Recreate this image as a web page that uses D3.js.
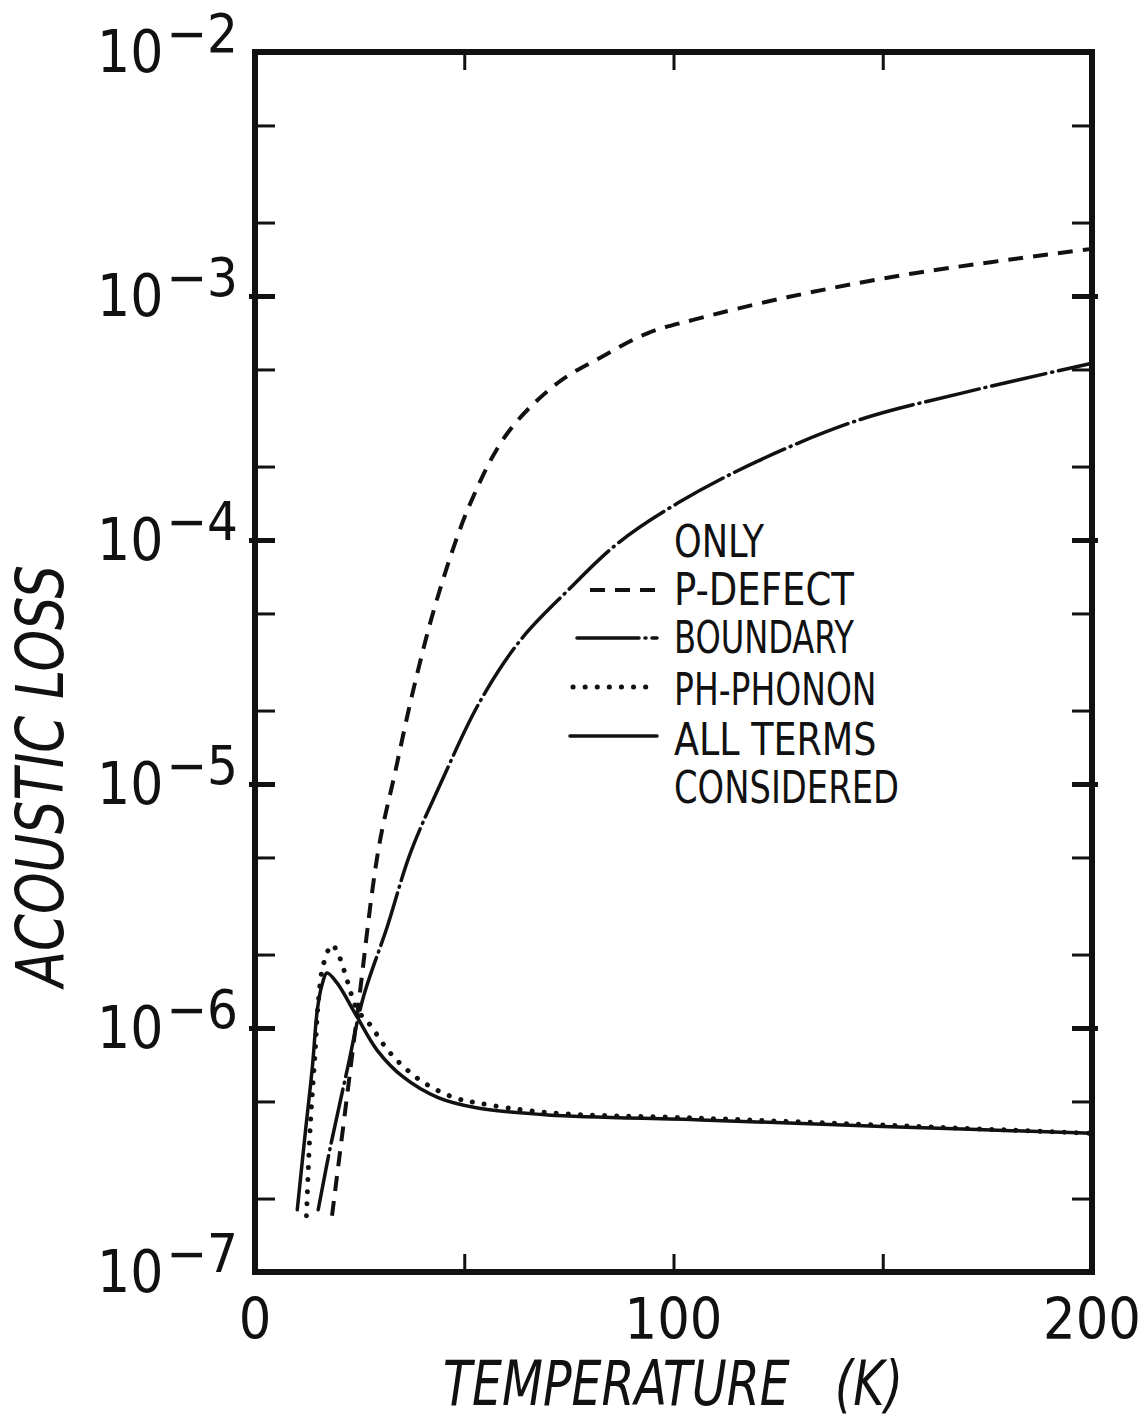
<!DOCTYPE html>
<html>
<head>
<meta charset="utf-8">
<script src="https://cdn.jsdelivr.net/npm/d3@7"></script>
<style>
  body { margin: 0; background: #fff; }
  text { font-family: "Liberation Sans Narrow", "DejaVu Sans Condensed", sans-serif; fill: #111; }
</style>
</head>
<body>
<script>
var width = 1146
var height = 1422

// temperatures (K) and acoustic loss for each curve
var tempDefect = [18.4, 21.5, 24.6, 29.5, 33.5, 38, 43.6, 51.5, 60.4, 72.3, 82.6, 93.9, 104.9, 127.4, 157.6, 200]
var lossDefect = [1.7e-7, 4.5e-7, 1.2e-6, 5.4e-6, 1.12e-5, 2.5e-5, 5.8e-5, 1.42e-4, 2.75e-4, 4.4e-4, 5.6e-4, 7.05e-4, 8.0e-4, 9.9e-4, 1.24e-3, 1.56e-3]

var tempBoundary = [15.1, 18.0, 22.0, 25.9, 31.6, 37.1, 44.3, 53.9, 63.5, 74.7, 86.7, 101.1, 120, 144.2, 168.9, 200]
var lossBoundary = [1.8e-7, 3.25e-7, 6.7e-7, 1.34e-6, 2.6e-6, 5.2e-6, 1.0e-5, 2.2e-5, 3.9e-5, 6.2e-5, 9.7e-5, 1.42e-4, 2.1e-4, 3.1e-4, 4.0e-4, 5.3e-4]

var tempPhonon = [12.3, 13.2, 14.4, 15.1, 16.3, 18.4, 20.2, 22.0, 24.4, 27.5, 32.3, 39.5, 47.4, 53.2, 70, 106.6, 150, 200]
var lossPhonon = [1.7e-7, 3.93e-7, 8.1e-7, 1.26e-6, 1.81e-6, 2.19e-6, 1.95e-6, 1.57e-6, 1.19e-6, 1.03e-6, 7.9e-7, 6.1e-7, 5.2e-7, 4.93e-7, 4.5e-7, 4.27e-7, 4.0e-7, 3.7e-7]

var tempAll = [10.1, 12.0, 13.7, 14.9, 16.0, 17.2, 19.6, 24.4, 29.2, 35.4, 43.6, 53.2, 70, 106.6, 150, 200]
var lossAll = [1.8e-7, 3.7e-7, 6.9e-7, 1.19e-6, 1.5e-6, 1.68e-6, 1.53e-6, 1.11e-6, 8.1e-7, 6.3e-7, 5.2e-7, 4.7e-7, 4.4e-7, 4.2e-7, 3.95e-7, 3.7e-7]

var xTicks = [0, 100, 200]
var xMinor = [50, 100, 150]
var yDecades = [-7, -6, -5, -4, -3, -2]
var legendLabels = ['ONLY', 'P-DEFECT', 'BOUNDARY', 'PH-PHONON', 'ALL TERMS', 'CONSIDERED']

var plotL = 255, plotR = 1092, plotT = 52, plotB = 1272

var svg = d3.select('body')
			.append('svg')
			.attr('width', width)
			.attr('height', height)

var x = d3.scaleLinear().domain([0, 200]).range([plotL, plotR])
var y = d3.scaleLog().domain([1e-7, 1e-2]).range([plotB, plotT])

var minorY = []
yDecades.slice(0, -1).forEach(function(p){
	minorY.push(2 * Math.pow(10, p), 5 * Math.pow(10, p))
})
var majorY = yDecades.slice(1, -1).map(function(p){ return Math.pow(10, p) })

// inward ticks on all four sides
function tickAxis(axis, tr, w) {
	var g = svg.append('g').attr('transform', tr).call(axis)
	g.select('.domain').remove()
	g.selectAll('text').remove()
	g.selectAll('line').attr('stroke', '#111').attr('stroke-width', w)
	return g
}
tickAxis(d3.axisLeft(y).tickValues(minorY).tickSize(-20), 'translate(' + plotL + ',0)', 3)
tickAxis(d3.axisRight(y).tickValues(minorY).tickSize(-20), 'translate(' + plotR + ',0)', 3)
tickAxis(d3.axisLeft(y).tickValues(majorY).tickSize(-26), 'translate(' + (plotL - 6) + ',0)', 5)
tickAxis(d3.axisRight(y).tickValues(majorY).tickSize(-26), 'translate(' + (plotR + 6) + ',0)', 5)
tickAxis(d3.axisBottom(x).tickValues(xMinor).tickSize(-18), 'translate(0,' + plotB + ')', 3)
tickAxis(d3.axisTop(x).tickValues(xMinor).tickSize(-18), 'translate(0,' + plotT + ')', 3)

svg.append('rect')
	.attr('x', plotL).attr('y', plotT)
	.attr('width', plotR - plotL).attr('height', plotB - plotT)
	.attr('fill', 'none')
	.attr('stroke', '#111')
	.attr('stroke-width', 6)

// y tick labels 10^n
var yLab = svg.selectAll('.ylab')
	.data(yDecades)
	.enter()
	.append('text')
	.attr('class', 'ylab')
	.attr('text-anchor', 'end')
	.attr('x', 238)
	.attr('y', function(d){ return y(Math.pow(10, d)) + 20 })
	.style('font-size', '58px')
yLab.append('tspan').text('10')
yLab.append('tspan')
	.attr('dx', 3)
	.attr('dy', -20)
	.style('font-size', '54px')
	.text(function(d){ return '\u2212' + (-d) })

svg.selectAll('.xlab')
	.data(xTicks)
	.enter()
	.append('text')
	.attr('class', 'xlab')
	.attr('text-anchor', 'middle')
	.attr('x', function(d){ return x(d) })
	.attr('y', 1339)
	.style('font-size', '57px')
	.text(function(d){ return d })

svg.append('text')
	.attr('x', 443).attr('y', 1405)
	.attr('textLength', 460)
	.attr('lengthAdjust', 'spacingAndGlyphs')
	.style('font-size', '62px')
	.style('font-style', 'italic')
	.style('white-space', 'pre')
	.text('TEMPERATURE   (K)')

svg.append('text')
	.attr('transform', 'translate(63,987) rotate(-90)')
	.attr('textLength', 422)
	.attr('lengthAdjust', 'spacingAndGlyphs')
	.style('font-size', '66px')
	.style('font-style', 'italic')
	.text('ACOUSTIC LOSS')

// curves
var styles = {
	defect: {dash: '15,10', cap: 'butt'},
	boundary: {dash: '55,6,1,6', cap: 'round'},
	phonon: {dash: '0.1,12', cap: 'round'},
	all: {dash: null, cap: 'round'}
}

var line = d3.line()
	.x(function(d){ return x(d[0]) })
	.y(function(d){ return y(d[1]) })
	.curve(d3.curveCatmullRom.alpha(0.5))

function drawCurve(ts, vs, st, w) {
	svg.append('path')
		.datum(d3.zip(ts, vs))
		.attr('d', line)
		.attr('fill', 'none')
		.attr('stroke', '#111')
		.attr('stroke-width', w)
		.attr('stroke-linecap', st.cap)
		.attr('stroke-dasharray', st.dash)
}
drawCurve(tempDefect, lossDefect, styles.defect, 4)
drawCurve(tempBoundary, lossBoundary, styles.boundary, 3.5)
drawCurve(tempPhonon, lossPhonon, styles.phonon, 5)
drawCurve(tempAll, lossAll, styles.all, 3.5)

// legend
var legY = [557, 605, 653, 705, 755, 803]
svg.selectAll('.leg')
	.data(legendLabels)
	.enter()
	.append('text')
	.attr('class', 'leg')
	.attr('x', 674)
	.attr('y', function(d, i){ return legY[i] })
	.attr('textLength', function(d){ return d.length * 22.5 })
	.attr('lengthAdjust', 'spacingAndGlyphs')
	.style('font-size', '45px')
	.style('white-space', 'pre')
	.text(function(d){ return d })

var legLines = [
	{y: 590, x0: 590, x1: 655, st: styles.defect, w: 4},
	{y: 638, x0: 577, x1: 657, st: {dash: '62,6,1,6', cap: 'round'}, w: 3.5},
	{y: 687, x0: 573, x1: 652, st: styles.phonon, w: 5},
	{y: 736, x0: 570, x1: 657, st: styles.all, w: 3.5}
]
legLines.forEach(function(l){
	svg.append('line')
		.attr('x1', l.x0).attr('x2', l.x1)
		.attr('y1', l.y).attr('y2', l.y)
		.attr('stroke', '#111')
		.attr('stroke-width', l.w)
		.attr('stroke-linecap', l.st.cap)
		.attr('stroke-dasharray', l.st.dash)
})
</script>
</body>
</html>
